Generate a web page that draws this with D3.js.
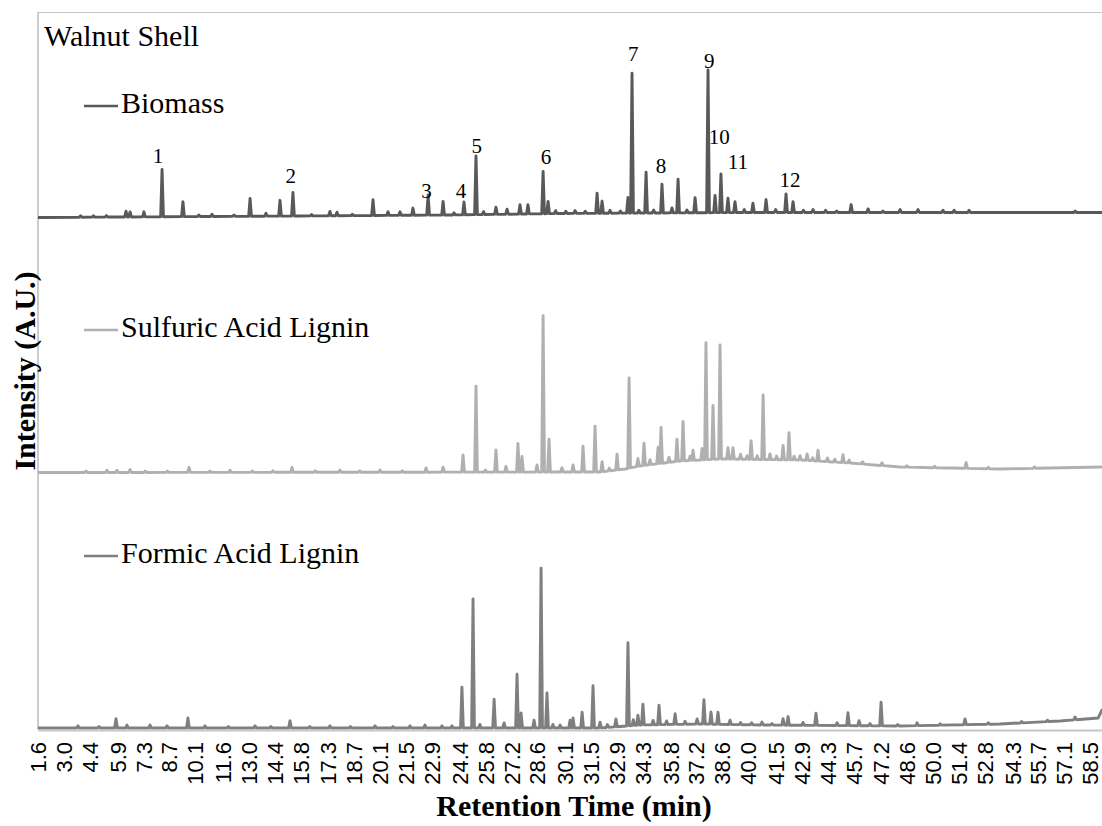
<!DOCTYPE html>
<html>
<head>
<meta charset="utf-8">
<title>Walnut Shell – Py-GC/MS chromatograms</title>
<script src="https://cdn.jsdelivr.net/npm/d3@7/dist/d3.min.js"></script>
<style>
  html, body { margin: 0; padding: 0; background: #ffffff; }
  svg { display: block; }
</style>
</head>
<body>
<svg id="chart" width="1102" height="826"></svg>
<script>
// ---- Data -------------------------------------------------------------
// Retention time (min) tick labels of the category axis
const tickLabels = ["1.6","3.0","4.4","5.9","7.3","8.7","10.1","11.6","13.0","14.4",
  "15.8","17.3","18.7","20.1","21.5","22.9","24.4","25.8","27.2","28.6","30.1",
  "31.5","32.9","34.3","35.8","37.2","38.6","40.0","41.5","42.9","44.3","45.7",
  "47.2","48.6","50.0","51.4","52.8","54.3","55.7","57.1","58.5"];

const seriesNames = ["Biomass", "Sulfuric Acid Lignin", "Formic Acid Lignin"];

// Baselines of each stacked trace: [retention time, intensity]
const biomassBaseline = [[1.6,71.34],[6.04,71.41],[15.77,71.55],[23.89,71.69],[29.84,71.90],[40.11,72.04],[59.15,72.04]];
const sulfuricBaseline = [[1.6,35.77],[32.00,35.84],[33.35,36.26],[34.16,36.68],[36.33,37.38],[38.49,37.66],[42.82,37.52],[45.52,37.10],[48.23,36.54],[53.63,36.26],[59.15,36.54]];
const formicBaseline = [[1.6,0.14],[32.00,0.14],[34.16,0.56],[37.41,0.70],[40.65,0.56],[48.23,0.42],[53.63,0.70],[56.88,1.12],[58.94,1.53],[59.15,2.65]];

// Peaks: [retention time, height above baseline]
const biomassPeaks = [[3.9,0.2],[4.6,0.2],[5.3,0.2],[6.36,0.8],[6.58,0.7],[7.33,0.7],[8.31,6.6],[9.44,2.1],[10.3,0.2],[11.01,0.3],
  [12.2,0.2],[13.07,2.5],[13.93,0.4],[14.69,2.2],[15.39,3.3],[16.4,0.2],[17.39,0.6],[17.77,0.5],[18.6,0.2],[19.72,2.2],
  [20.53,0.5],[21.18,0.5],[21.88,1.0],[22.70,2.8],[23.51,1.9],[24.10,0.3],[24.64,1.8],[25.29,8.2],[25.70,0.4],[26.37,1.0],
  [26.97,0.7],[27.67,1.3],[28.10,1.3],[28.92,5.9],[29.19,1.7],[29.60,0.4],[30.15,0.3],[30.65,0.4],[31.20,0.3],[31.84,2.8],
  [32.11,1.7],[32.54,0.4],[33.10,0.3],[33.51,2.2],[33.73,19.5],[34.10,0.4],[34.49,5.7],[34.90,0.4],[35.35,4.0],[35.89,0.7],
  [36.22,4.7],[36.70,0.4],[37.14,2.1],[37.84,19.9],[38.22,2.4],[38.54,5.4],[38.92,2.0],[39.30,1.5],[39.80,0.4],[40.27,1.3],
  [40.98,1.8],[41.50,0.4],[42.06,2.6],[42.44,1.5],[43.00,0.3],[43.52,0.4],[44.20,0.3],[44.80,0.2],[45.58,1.1],[46.50,0.5],
  [47.30,0.2],[48.23,0.4],[49.20,0.4],[50.55,0.3],[51.15,0.3],[51.96,0.3],[57.70,0.2]];

const sulfuricPeaks = [[4.2,0.2],[5.33,0.3],[5.87,0.3],[6.58,0.4],[7.4,0.2],[8.6,0.2],[9.77,0.7],[10.9,0.2],[11.99,0.3],
  [13.2,0.2],[14.3,0.2],[15.34,0.7],[16.6,0.2],[17.93,0.3],[19.0,0.2],[20.10,0.3],[21.3,0.2],[22.59,0.6],[23.51,0.7],
  [24.59,2.4],[25.29,12.0],[25.80,0.3],[26.37,3.1],[26.91,0.8],[27.56,4.0],[27.78,2.2],[28.59,1.0],[28.92,21.8],[29.24,4.6],
  [29.94,0.6],[30.54,1.0],[31.08,3.6],[31.73,6.4],[32.11,1.4],[32.50,0.4],[32.92,2.2],[33.57,12.6],[34.05,1.1],[34.38,3.1],
  [34.70,0.7],[35.14,2.3],[35.30,5.0],[35.73,0.7],[36.16,3.1],[36.49,5.5],[36.87,0.6],[37.03,1.4],[37.52,1.6],[37.73,16.3],
  [38.11,7.5],[38.49,15.9],[38.92,1.6],[39.19,1.6],[39.60,0.7],[39.95,0.5],[40.17,2.6],[40.50,0.5],[40.82,9.0],[41.19,0.8],
  [41.55,0.5],[41.90,2.0],[42.22,3.8],[42.50,0.5],[42.82,0.6],[43.20,0.9],[43.50,0.4],[43.79,1.5],[44.30,0.5],[44.70,0.4],
  [45.14,1.1],[45.47,0.4],[46.20,0.3],[47.25,0.4],[48.60,0.2],[50.10,0.2],[51.80,0.8],[53.00,0.2],[55.50,0.2]];

const formicPeaks = [[3.76,0.3],[4.9,0.2],[5.82,1.3],[6.41,0.4],[7.66,0.4],[8.58,0.3],[9.71,1.4],[10.63,0.3],[11.9,0.2],
  [13.34,0.3],[14.2,0.2],[15.23,1.0],[16.3,0.2],[17.39,0.3],[18.5,0.2],[19.83,0.3],[20.8,0.2],[21.72,0.3],[22.53,0.4],
  [23.45,0.3],[23.99,0.3],[24.53,5.7],[25.13,18.0],[25.50,0.5],[26.27,4.0],[26.81,0.7],[27.51,7.5],[27.73,2.1],[28.43,1.1],
  [28.81,22.3],[29.13,4.9],[29.45,0.5],[29.84,0.4],[30.38,1.1],[30.54,1.4],[31.03,2.2],[31.62,5.9],[32.00,0.8],[32.40,0.4],
  [32.86,1.1],[33.51,11.6],[33.80,0.8],[34.05,1.4],[34.32,2.9],[34.87,0.6],[35.19,2.7],[35.60,0.5],[36.06,1.5],[36.60,0.4],
  [37.25,0.7],[37.62,3.4],[38.00,1.7],[38.38,1.7],[39.03,0.6],[39.60,0.3],[40.20,0.3],[40.76,0.4],[41.30,0.2],[41.90,0.9],
  [42.17,1.2],[42.98,0.4],[43.68,1.7],[44.82,0.4],[45.41,1.8],[46.01,0.7],[46.60,0.3],[47.20,3.3],[48.10,0.2],[49.15,0.4],
  [50.40,0.2],[51.74,0.8],[53.00,0.2],[54.80,0.2],[56.20,0.2],[57.69,0.4]];

// Numbered compounds on the biomass trace: label, retention time, label level
const peakLabels = ["1","2","3","4","5","6","7","8","9","10","11","12"];
const peakLabelTimes = [8.09,15.27,22.62,24.48,25.33,29.08,33.80,35.30,37.91,38.45,39.46,42.28];
const peakLabelLevels = [78.9,76.1,74.1,74.1,80.3,78.8,93.2,77.5,92.2,81.6,78.1,75.6];

// ---- Layout & styles --------------------------------------------------
const W = 1102, H = 826;
const plot = { left: 38, right: 1102, top: 12, bottom: 729 };
const colors = ["#595959", "#b0b0b0", "#7f7f7f"];
const serif = "'Liberation Serif', 'Times New Roman', serif";
const sans = "'Liberation Sans', Arial, sans-serif";

const svg = d3.select("#chart");
svg.append("rect").attr("width", W).attr("height", H).attr("fill", "#fff");

const x = d3.scaleLinear().domain([1.6, 59.15]).range([plot.left, plot.right]);
const y = d3.scaleLinear().domain([0, 100]).range([plot.bottom, plot.top]);

// Each peak is drawn as a narrow spike on top of a piecewise-linear baseline
const HALF_WIDTH = 0.075;
function buildTrace(baseline, peaks) {
  const bt = baseline.map(d => d[0]);
  const bv = baseline.map(d => d[1]);
  const baseAt = t => {
    const i = Math.max(1, Math.min(bt.length - 1, d3.bisectRight(bt, t)));
    const t0 = bt[i - 1], t1 = bt[i];
    const f = (t - t0) / (t1 - t0);
    return bv[i - 1] + (bv[i] - bv[i - 1]) * f;
  };
  const times = new Set(bt);
  peaks.forEach(([t]) => { times.add(t - HALF_WIDTH); times.add(t); times.add(t + HALF_WIDTH); });
  return [...times].sort((a, b) => a - b).map(t => [
    t,
    baseAt(t) + d3.sum(peaks, ([pt, h]) => Math.max(0, 1 - Math.abs(t - pt) / HALF_WIDTH) * h)
  ]);
}

const traces = [
  buildTrace(biomassBaseline, biomassPeaks),
  buildTrace(sulfuricBaseline, sulfuricPeaks),
  buildTrace(formicBaseline, formicPeaks)
];

// Plot frame (top and left edges)
svg.append("line")
  .attr("x1", plot.left - 0.5).attr("x2", W)
  .attr("y1", plot.top + 0.5).attr("y2", plot.top + 0.5)
  .attr("stroke", "#c4c4c4").attr("stroke-width", 1);

const yAxis = svg.append("g")
  .attr("transform", `translate(${plot.left - 0.5},0)`)
  .call(d3.axisLeft(y).tickValues([]).tickSizeOuter(0));
yAxis.select(".domain").attr("stroke", "#ababab").attr("stroke-width", 1.2);

// Traces
svg.append("defs").append("clipPath").attr("id", "plot-clip")
  .append("rect").attr("x", plot.left).attr("y", plot.top)
  .attr("width", plot.right - plot.left).attr("height", plot.bottom - plot.top + 4);

const line = d3.line().x(d => x(d[0])).y(d => y(d[1]));
svg.append("g").attr("clip-path", "url(#plot-clip)")
  .selectAll("path").data(traces).join("path")
  .attr("d", line)
  .attr("fill", "none")
  .attr("stroke", (d, i) => colors[i])
  .attr("stroke-width", 2.9)
  .attr("stroke-linejoin", "round")
  .attr("stroke-linecap", "round");

// Category axis along the bottom
const xAxis = svg.append("g")
  .attr("transform", `translate(0,${plot.bottom + 1})`)
  .call(d3.axisBottom(x)
    .tickValues(tickLabels.map(Number))
    .tickFormat((d, i) => tickLabels[i])
    .tickSize(0)
    .tickSizeOuter(0));
xAxis.select(".domain").attr("stroke", "#c6c6c6").attr("stroke-width", 2);
xAxis.selectAll(".tick text")
  .attr("transform", "rotate(-90)")
  .attr("x", -12).attr("y", 0).attr("dy", "0.35em")
  .attr("text-anchor", "end")
  .attr("fill", "#000")
  .style("font-family", sans)
  .style("font-size", "22px");

// Axis titles
svg.append("text")
  .attr("x", 574).attr("y", 816)
  .attr("text-anchor", "middle")
  .style("font-family", serif).style("font-size", "30px").style("font-weight", "bold")
  .text("Retention Time (min)");

svg.append("text")
  .attr("transform", "translate(35,371) rotate(-90)")
  .attr("text-anchor", "middle")
  .style("font-family", serif).style("font-size", "30px").style("font-weight", "bold")
  .text("Intensity (A.U.)");

// Chart title
svg.append("text")
  .attr("x", 44).attr("y", 46)
  .style("font-family", serif).style("font-size", "30px")
  .text("Walnut Shell");

// Legend entries, one above each trace
const legendY = [113, 337, 563];
const legend = svg.append("g").selectAll("g").data(seriesNames).join("g")
  .attr("transform", (d, i) => `translate(0,${legendY[i]})`);
legend.append("line")
  .attr("x1", 84).attr("x2", 118).attr("y1", -7).attr("y2", -7)
  .attr("stroke", (d, i) => colors[i]).attr("stroke-width", 2.6);
legend.append("text")
  .attr("x", 121).attr("y", 0)
  .style("font-family", serif).style("font-size", "30px")
  .text(d => d);

// Peak numbers on the biomass trace
svg.append("g").selectAll("text").data(peakLabels).join("text")
  .attr("x", (d, i) => x(peakLabelTimes[i]))
  .attr("y", (d, i) => y(peakLabelLevels[i]))
  .attr("text-anchor", "middle")
  .style("font-family", serif).style("font-size", "21px")
  .text(d => d);
</script>
</body>
</html>
